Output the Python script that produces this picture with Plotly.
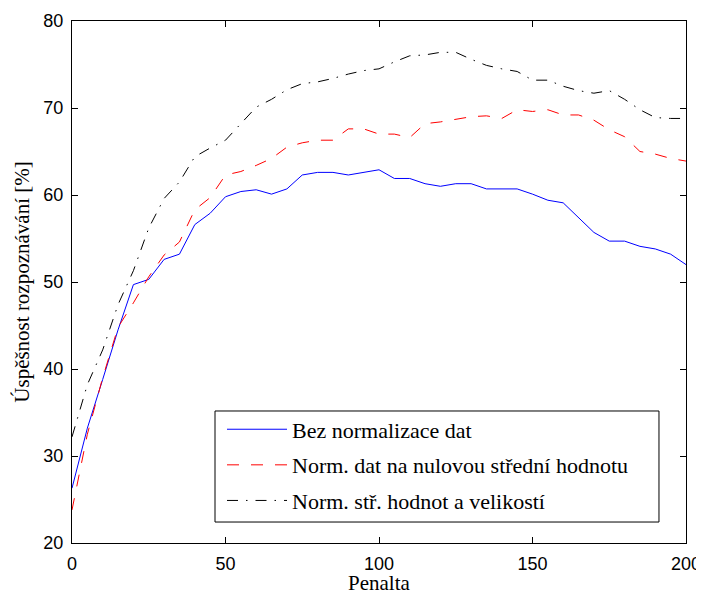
import plotly.graph_objects as go

penalty = list(range(0, 201, 5))

bez_norm = [26.3, 33.2, 38.8, 44.5, 49.7, 50.3, 52.6, 53.2, 56.6, 57.9,
            59.8, 60.4, 60.6, 60.1, 60.7, 62.3, 62.6, 62.6, 62.3, 62.6,
            62.9, 61.9, 61.9, 61.3, 61.0, 61.3, 61.3, 60.7, 60.7, 60.7,
            60.1, 59.4, 59.1, 57.4, 55.7, 54.7, 54.7, 54.1, 53.8, 53.2, 52.0]

norm_mean = [23.8, 32.5, 39.0, 44.8, 47.6, 50.6, 53.1, 54.6, 58.3, 59.7,
             62.3, 62.7, 63.4, 64.2, 65.5, 66.0, 66.3, 66.3, 67.6, 67.6,
             67.0, 67.0, 66.6, 68.2, 68.4, 68.7, 69.0, 69.1, 68.8, 69.8,
             69.6, 69.8, 69.2, 69.2, 68.6, 67.5, 66.7, 65.0, 64.7, 64.2, 63.9]

norm_mean_size = [32.2, 38.2, 42.2, 47.4, 51.3, 56.2, 59.6, 61.5, 64.4, 65.4,
                  66.3, 68.2, 70.1, 71.0, 72.1, 72.8, 73.0, 73.4, 73.9, 74.3,
                  74.5, 75.3, 76.0, 76.1, 76.4, 76.4, 75.6, 74.9, 74.5, 74.2,
                  73.2, 73.2, 72.5, 72.0, 71.7, 72.0, 71.0, 69.8, 68.9, 68.8, 68.8]

names = ["Bez normalizace dat",
         "Norm. dat na nulovou střední hodnotu",
         "Norm. stř. hodnot a velikostí"]

x_ticks = [0, 50, 100, 150, 200]
y_ticks = [20, 30, 40, 50, 60, 70, 80]

x_title = "Penalta"
y_title = "Úspěšnost rozpoznávání [%]"

serif = "Liberation Serif, Times New Roman, serif"
sans = "Liberation Sans, Arial, sans-serif"

fig = go.Figure()
fig.add_trace(go.Scatter(x=penalty, y=bez_norm, mode="lines", name=names[0],
                         legendgroup="a",
                         line=dict(color="#0000ff", width=1)))
fig.add_trace(go.Scatter(x=penalty, y=norm_mean, mode="lines", name=names[1],
                         legendgroup="b",
                         line=dict(color="#ff0000", width=1, dash="12px,12px")))
fig.add_trace(go.Scatter(x=penalty, y=norm_mean_size, mode="lines", name=names[2],
                         legendgroup="c",
                         line=dict(color="#000000", width=1, dash="11px,8px,1.5px,8px")))

axis_common = dict(showline=True, linecolor="black", linewidth=1, mirror="ticks",
                   ticks="inside", ticklen=6, tickcolor="black", showgrid=False,
                   zeroline=False, automargin=False,
                   tickfont=dict(family=sans, size=18, color="black"))

fig.update_xaxes(range=[0, 200], tickvals=x_ticks, ticklabelstandoff=4, **axis_common)
fig.update_yaxes(range=[20, 80], tickvals=y_ticks, ticklabelstandoff=4,
                 title=dict(text=y_title,
                            font=dict(family=serif, size=21, color="black"), standoff=8),
                 **axis_common)

# x-axis title as an annotation so it sits below the tick labels
fig.add_annotation(text=x_title, xref="paper", yref="paper", x=0.5, y=0,
                   xanchor="center", yanchor="top", yshift=-26, showarrow=False,
                   font=dict(family=serif, size=21, color="black"))

# legend frame (MATLAB-style box, wider than plotly's own legend border)
fig.add_shape(type="rect", xref="paper", yref="paper",
              x0=0.2329, x1=0.9560, y0=0.0402, y1=0.2529,
              line=dict(color="black", width=1), fillcolor="white", layer="below")

# the page body adds an 8px margin, so the figure is sized to fit the window
fig.update_layout(
    width=696, height=587,
    margin=dict(l=64, r=18, t=13, b=52),
    paper_bgcolor="white", plot_bgcolor="white",
    showlegend=True,
    legend=dict(x=0.2443, y=0.0413, xanchor="left", yanchor="bottom",
                bgcolor="rgba(0,0,0,0)", borderwidth=0,
                font=dict(family=serif, size=22, color="black"),
                tracegroupgap=4, itemwidth=60),
)

fig.write_html("out.html")
